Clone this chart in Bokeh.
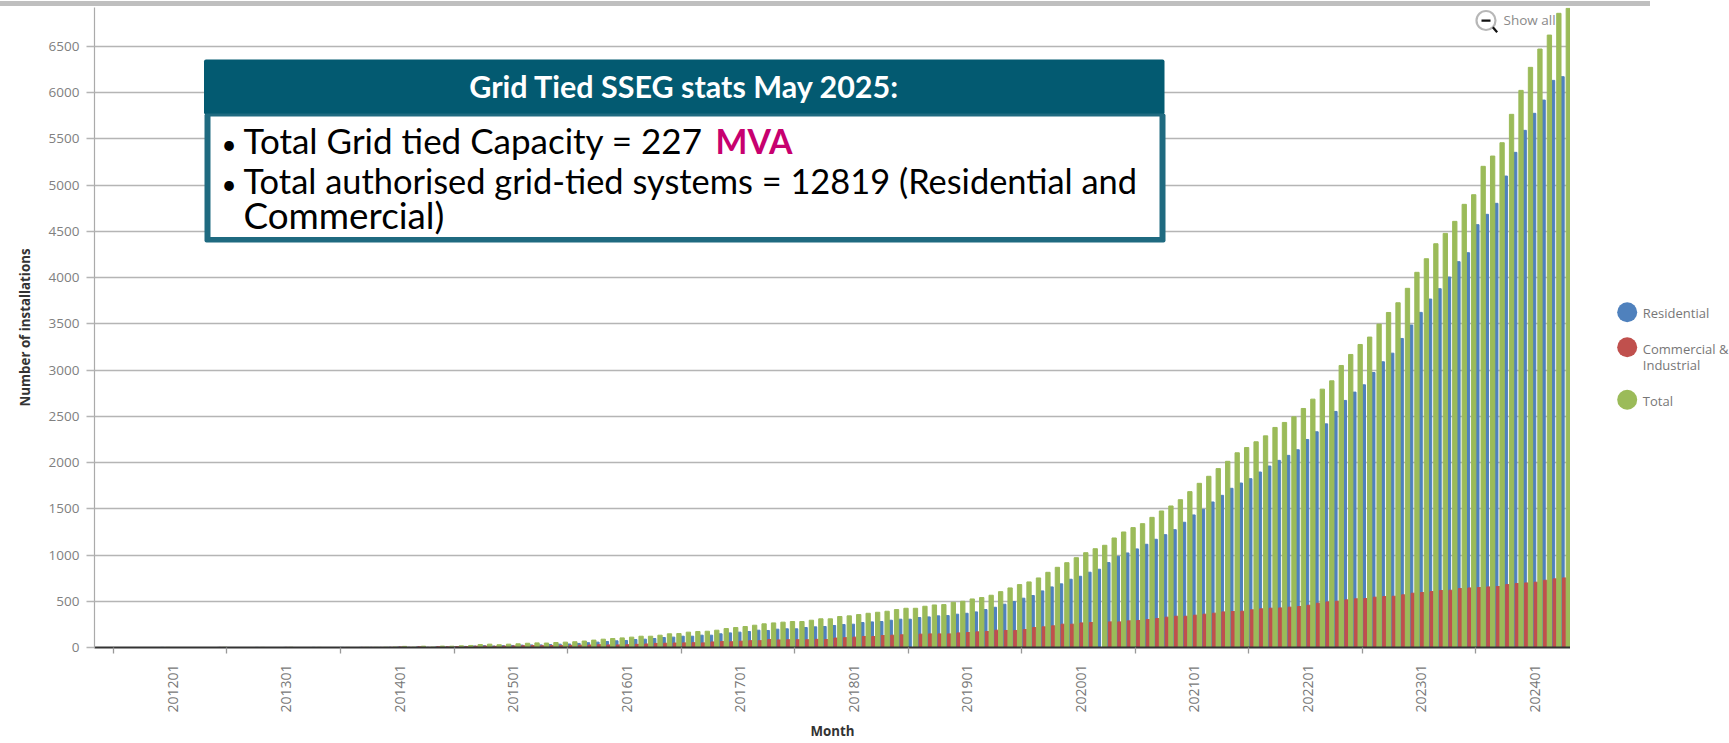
import math
from bokeh.plotting import figure
from bokeh.embed import file_html
from bokeh.resources import INLINE
from bokeh.layouts import row
from bokeh.core.properties import value
from bokeh.models import BoxAnnotation, Label, PolyAnnotation, FixedTicker

total_a = [0,0,0,0,0,0,0,1,0,0,0,0,0,2,0,0,0,1,0,0,2,0,0,1,0,0,1,0,2,2,
           3,5,12,4,14,5,15,14,18,22,32,36,30,36,40,46,50,48,54,58,62,70,80]
total_b = [90,97,104,112,122,122,133,148,151,166,173,176,187,205,216,227,241,256,266,274,281,281,295,310,310,335,342,356,
           370,381,392,410,424,424,446,460,464,489,500,525,540,565,604,644,680,709,752,813,867,917]
total_c = [971,1025,1068,1105,1184,1249,1296,1339,1407,1476,1530,1598,1685,1775,1851,1934,2013,
           2105,2162,2224,2288,2379,2433,2494,2584,2685,2793,2883,3049,3168,3276,3356,3496,3622,3727]
total_d = [3883,4056,4203,4365,4477,4607,4791,4895,5202,5313,5457,5764,6023,6272,6470,6621,6856,6910]
total = total_a + total_b + total_c + total_d

residential_a = [0,0,0,0,0,0,0,1,0,0,0,0,0,1,0,0,0,1,0,0,1,0,0,1,0,0,1,0,1,1,
                 1,2,5,2,6,2,6,6,8,12,16,20,16,20,22,26,28,28,32,36,38,44,52,58]
residential_b = [65,72,76,86,90,97,108,112,122,122,133,133,148,158,166,173,187,184,198,202,202,216,223,227,238,248,252,
                 270,277,281,295,306,306,324,331,342,345,360,370,385,410,435]
residential_c = [468,497,533,562,612,655,688,738,770,814,846,918,986,1022,1066,1116,1170,1220,1274,1354,1433,1494,1573,1645,
                 1721,1778,1825,1897,1962,2023,2077,2138,2249,2332,2418,2552,2671,2761,2840,2973,3089,3182,3341]
residential_d = [3486,3623,3767,3879,4005,4171,4268,4571,4683,4802,5097,5353,5591,5775,5918,6131,6171]
residential = residential_a + residential_b + residential_c + residential_d

commercial_a = [0,0,0,0,0,0,0,0,0,0,0,0,0,1,0,0,0,0,0,0,1,0,0,0,0,0,0,0,1,1,
                1,2,6,2,7,2,8,7,9,9,14,15,13,15,17,19,21,19,21,21,23,25,27,30]
commercial_b = [28,28,30,34,38,44,46,48,50,52,50,60,64,62,68,74,74,86,82,84,84,84,88,86,102,106,112,
                119,119,129,133,137,0,144,147,147,147,158,162,169,173,187]
commercial_c = [184,184,194,216,223,234,252,252,266,270,0,277,277,288,292,302,313,328,338,338,349,360,371,385,389,392,407,418,425,428,436]
commercial_d = [443,457,479,493,500,515,526,529,544,551,554,569,587,594,605,616,619,637,644,648,655,659,680,691,698,706,727,742,752]
commercial = commercial_a + commercial_b + commercial_c + commercial_d

tick_labels = ["201201","201301","201401","201501","201601","201701","201801",
               "201901","202001","202101","202201","202301","202401"]
y_ticks = [0,500,1000,1500,2000,2500,3000,3500,4000,4500,5000,5500,6000,6500]
series_names = ["Residential", "Commercial &", "Industrial", "Total"]
BLUE, RED, GREEN = "#4f81bd", "#c0504d", "#9bbb59"

FONT = "Open Sans"
W, H = 1729, 743
L, R, T, B = 94, 1570, 7, 647
BAND = (R - L) / 156
YMAX = 6919
YS = YMAX / (B - T)
X = lambda px: (px - L) / BAND
Y = lambda py: (B - py) * YS

p = figure(width=R, height=H, output_backend="svg", toolbar_location=None,
           x_range=(0, 156), y_range=(0, YMAX), outline_line_color=None,
           min_border_left=L, min_border_right=0, min_border_top=T, min_border_bottom=H - B,
           background_fill_color="white", border_fill_color=None)

idx = list(range(156))
p.vbar(x=[i + 0.5 - 0.343 for i in idx], top=residential, bottom=0, width=0.35, color=BLUE)
p.vbar(x=[i + 0.5 - 0.153 for i in idx], top=commercial, bottom=0, width=0.39, color=RED)
p.vbar(x=[i + 0.5 + 0.27 for i in idx], top=total, bottom=0, width=0.455, color=GREEN)

# axes
xa = p.xaxis[0]
xa.ticker = FixedTicker(ticks=[8.25 + 12 * k for k in range(13)],
                        minor_ticks=[2 + 12 * k for k in range(13)])
xa.major_label_overrides = {8.25 + 12 * k: t for k, t in enumerate(tick_labels)}
xa.major_label_orientation = math.pi / 2
xa.major_tick_out = 0
xa.major_tick_in = 0
xa.minor_tick_out = 6
xa.minor_tick_in = 0
xa.minor_tick_line_color = "#999999"
xa.minor_tick_line_width = 1.3
xa.axis_line_color = "#333333"
xa.axis_line_width = 2
xa.major_label_standoff = 11
xa.major_label_text_font = FONT
xa.major_label_text_font_size = "14px"
xa.major_label_text_color = "#777777"
xa.axis_label = "Month"
xa.axis_label_text_font = FONT
xa.axis_label_text_font_size = "13.3px"
xa.axis_label_text_font_style = "bold"
xa.axis_label_text_color = "#333333"
xa.axis_label_standoff = 6

ya = p.yaxis[0]
ya.ticker = FixedTicker(ticks=y_ticks)
ya.minor_tick_line_color = None
ya.major_tick_out = 8
ya.major_tick_in = 0
ya.major_tick_line_color = "#b5b5b5"
ya.major_tick_line_width = 1.3
ya.axis_line_color = "#aaaaaa"
ya.axis_line_width = 1.2
ya.major_label_standoff = 7
ya.major_label_text_font = FONT
ya.major_label_text_font_size = "13.5px"
ya.major_label_text_color = "#808080"
ya.axis_label = "Number of installations"
ya.axis_label_text_font = FONT
ya.axis_label_text_font_size = "13.3px"
ya.axis_label_text_font_style = "bold"
ya.axis_label_text_color = "#333333"
ya.axis_label_standoff = 12

p.xgrid.visible = False
p.ygrid[0].ticker = FixedTicker(ticks=y_ticks)
p.ygrid[0].grid_line_color = "#b5b5b5"
p.ygrid[0].grid_line_width = 1.4


def box(x0, x1, y0, y1, color, radius=0, alpha=1.0, line=None, lw=0):
    b = BoxAnnotation(left=X(x0), right=X(x1), top=Y(y0), bottom=Y(y1),
                      fill_color=color, fill_alpha=alpha,
                      line_color=line, line_width=lw, border_radius=radius)
    p.add_layout(b)
    return b


def text(px, py, s, size, color, font=FONT, style="normal", align="left"):
    p.add_layout(Label(x=X(px), y=Y(py - 0.38 * size), text=s, text_font=font, text_font_size=f"{size}px",
                       text_font_style=style, text_color=color, text_align=align,
                       text_baseline="alphabetic"))


# stats box
HEAD, EDGE = "#035a71", "#1f6a80"
box(203.5, 1164, 59, 114, HEAD, radius=2)
box(204, 1165, 113, 242, EDGE, radius=2)
box(210, 1159, 116, 236.5, "#ffffff")
BOX_FONT = "Lato"
text(684, 97, "Grid Tied SSEG stats May 2025:", 30.5, "#ffffff", font=BOX_FONT, style="bold", align="center")
text(221, 153, "•", 26, "#000000", font=BOX_FONT)
text(243, 153, "Total Grid tied Capacity = 227", 35, "#000000", font=BOX_FONT)
text(715, 153, "MVA", 33.8, "#c7006f", font=BOX_FONT, style="bold")
text(221, 193, "•", 26, "#000000", font=BOX_FONT)
text(243, 193, "Total authorised grid-tied systems = 12819 (Residential and", 34.4, "#000000", font=BOX_FONT)
text(243, 228, "Commercial)", 36.8, "#000000", font=BOX_FONT)

# "Show all" control
box(1476, 1495, 10.5, 29.5, None, radius=10, alpha=0, line="#111111", lw=2.2)
box(1481, 1490, 19, 21.2, "#111111")
p.add_layout(PolyAnnotation(xs=[X(1491.5), X(1493.2), X(1497.5), X(1495.8)],
                            ys=[Y(27.5), Y(26), Y(31), Y(32.5)],
                            fill_color="#111111", fill_alpha=1, line_color=None))
text(1503, 25, "Show all", 13.5, "#8a8a8a")

# legend panel to the right of the plot, in page-pixel coordinates
q = figure(width=W - R, height=H, output_backend="svg", toolbar_location=None,
           x_range=(R, W), y_range=(B, T), outline_line_color=None,
           min_border_left=0, min_border_right=0, min_border_top=T, min_border_bottom=H - B,
           background_fill_color=None, border_fill_color=None, x_axis_type=None, y_axis_type=None)
q.xgrid.visible = False
q.ygrid.visible = False
q.scatter(x=[1626.7, 1626.7, 1626.7], y=[311.7, 346.7, 399.3], size=20, marker="circle",
          color=[BLUE, RED, GREEN], line_color=None)
q.text(x=[1642.3] * 4, y=[312.5, 348, 364, 400.7], text=series_names, text_baseline="middle",
       text_font=value(FONT), text_font_size="13px", text_color="#777777")

# grey rule of the slide along the top of the page
page = row(p, q, spacing=0, styles={"background": "linear-gradient(#bfbfbf,#bfbfbf) 0px 1px / 1650px 5px no-repeat"})

open("out.html", "w").write(file_html(page, INLINE))
